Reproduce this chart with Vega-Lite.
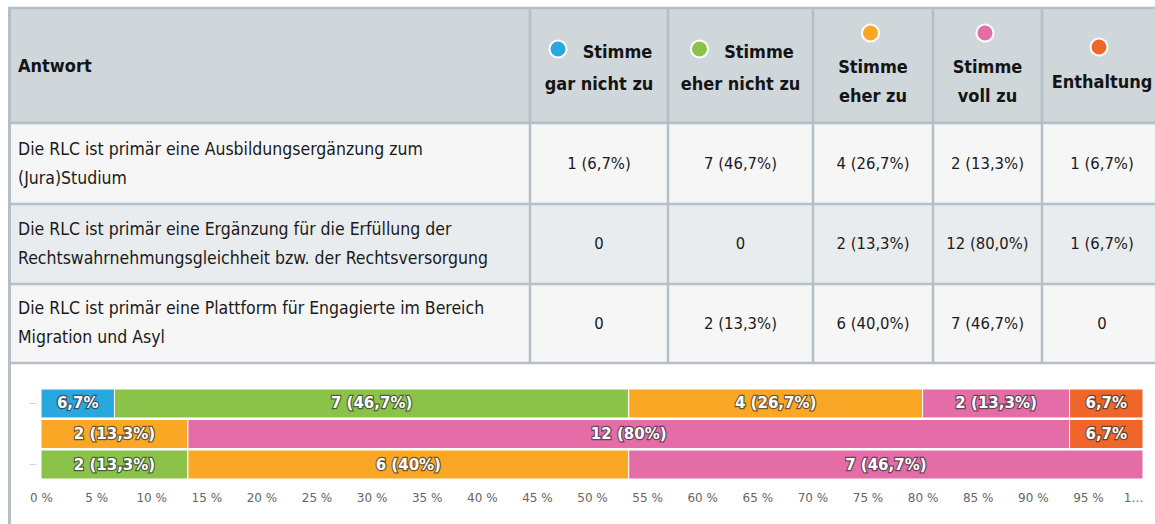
{
  "$schema": "https://vega.github.io/schema/vega-lite/v6.json",
  "width": 1147,
  "height": 517,
  "autosize": {"type": "none"},
  "padding": {"left": 8, "top": 7, "right": 0, "bottom": 0},
  "background": "white",
  "config": {"view": {"stroke": null}, "font": "DejaVu Sans"},
  "datasets": {
    "cats": [
      {"c": 2, "cat": "Stimme gar nicht zu", "l1": "Stimme", "l2": "gar nicht zu"},
      {"c": 3, "cat": "Stimme eher nicht zu", "l1": "Stimme", "l2": "eher nicht zu"},
      {"c": 4, "cat": "Stimme eher zu", "l1": "Stimme", "l2": "eher zu"},
      {"c": 5, "cat": "Stimme voll zu", "l1": "Stimme", "l2": "voll zu"},
      {"c": 6, "cat": "Enthaltung", "l1": "Enthaltung", "l2": ""}
    ],
    "stmts": [
      {"r": 2, "lines": ["Die RLC ist primär eine Ausbildungsergänzung zum", "(Jura)Studium"]},
      {"r": 3, "lines": ["Die RLC ist primär eine Ergänzung für die Erfüllung der", "Rechtswahrnehmungsgleichheit bzw. der Rechtsversorgung"]},
      {"r": 4, "lines": ["Die RLC ist primär eine Plattform für Engagierte im Bereich", "Migration und Asyl"]}
    ],
    "cells": [
      {"r": 2, "c": 2, "v": "1 (6,7%)"},
      {"r": 2, "c": 3, "v": "7 (46,7%)"},
      {"r": 2, "c": 4, "v": "4 (26,7%)"},
      {"r": 2, "c": 5, "v": "2 (13,3%)"},
      {"r": 2, "c": 6, "v": "1 (6,7%)"},
      {"r": 3, "c": 2, "v": "0"},
      {"r": 3, "c": 3, "v": "0"},
      {"r": 3, "c": 4, "v": "2 (13,3%)"},
      {"r": 3, "c": 5, "v": "12 (80,0%)"},
      {"r": 3, "c": 6, "v": "1 (6,7%)"},
      {"r": 4, "c": 2, "v": "0"},
      {"r": 4, "c": 3, "v": "2 (13,3%)"},
      {"r": 4, "c": 4, "v": "6 (40,0%)"},
      {"r": 4, "c": 5, "v": "7 (46,7%)"},
      {"r": 4, "c": 6, "v": "0"}
    ],
    "bars": [
      {"frage": "Die RLC ist primär eine Ausbildungsergänzung zum (Jura)Studium", "cat": "Stimme gar nicht zu", "k": 1, "n": 1, "lab": "6,7%"},
      {"frage": "Die RLC ist primär eine Ausbildungsergänzung zum (Jura)Studium", "cat": "Stimme eher nicht zu", "k": 2, "n": 7, "lab": "7 (46,7%)"},
      {"frage": "Die RLC ist primär eine Ausbildungsergänzung zum (Jura)Studium", "cat": "Stimme eher zu", "k": 3, "n": 4, "lab": "4 (26,7%)"},
      {"frage": "Die RLC ist primär eine Ausbildungsergänzung zum (Jura)Studium", "cat": "Stimme voll zu", "k": 4, "n": 2, "lab": "2 (13,3%)"},
      {"frage": "Die RLC ist primär eine Ausbildungsergänzung zum (Jura)Studium", "cat": "Enthaltung", "k": 5, "n": 1, "lab": "6,7%"},
      {"frage": "Die RLC ist primär eine Ergänzung für die Erfüllung der Rechtswahrnehmungsgleichheit bzw. der Rechtsversorgung", "cat": "Stimme eher zu", "k": 3, "n": 2, "lab": "2 (13,3%)"},
      {"frage": "Die RLC ist primär eine Ergänzung für die Erfüllung der Rechtswahrnehmungsgleichheit bzw. der Rechtsversorgung", "cat": "Stimme voll zu", "k": 4, "n": 12, "lab": "12 (80%)"},
      {"frage": "Die RLC ist primär eine Ergänzung für die Erfüllung der Rechtswahrnehmungsgleichheit bzw. der Rechtsversorgung", "cat": "Enthaltung", "k": 5, "n": 1, "lab": "6,7%"},
      {"frage": "Die RLC ist primär eine Plattform für Engagierte im Bereich Migration und Asyl", "cat": "Stimme eher nicht zu", "k": 2, "n": 2, "lab": "2 (13,3%)"},
      {"frage": "Die RLC ist primär eine Plattform für Engagierte im Bereich Migration und Asyl", "cat": "Stimme eher zu", "k": 3, "n": 6, "lab": "6 (40%)"},
      {"frage": "Die RLC ist primär eine Plattform für Engagierte im Bereich Migration und Asyl", "cat": "Stimme voll zu", "k": 4, "n": 7, "lab": "7 (46,7%)"}
    ]
  },
  "layer": [
    {
      "layer": [
        {
          "data": {"values": [{}]},
          "mark": {"type": "rect", "fill": "#cfd7db", "stroke": "#b5c0c6", "strokeWidth": 2.5},
          "encoding": {
            "x": {"datum": 0.5, "type": "quantitative", "axis": null, "scale": {"domain": [0.5, 1, 1.5, 2, 2.5, 3, 3.5, 4, 4.5, 5, 5.5, 6, 6.5], "range": [1.5, 10, 522, 591, 660, 732.5, 805, 865, 925, 979.5, 1034, 1094, 1155], "zero": false, "nice": false}},
            "x2": {"datum": 6.5},
            "y": {"datum": 0.5, "type": "quantitative", "axis": null, "scale": {"domain": [0.5, 1, 1.5, 2, 2.5, 3, 3.5, 4, 4.5], "range": [1, 58, 116, 157, 197, 237, 277, 316.5, 356], "zero": false, "nice": false}},
            "y2": {"datum": 1.5}
          }
        },
        {
          "data": {"values": [{}]},
          "mark": {"type": "rect", "fill": "#f6f6f6", "stroke": "#b5c0c6", "strokeWidth": 2.5},
          "encoding": {
            "x": {"datum": 0.5, "type": "quantitative", "axis": null},
            "x2": {"datum": 6.5},
            "y": {"datum": 1.5, "type": "quantitative", "axis": null},
            "y2": {"datum": 4.5}
          }
        },
        {
          "data": {"values": [{}]},
          "mark": {"type": "rect", "fill": "#e9ecee", "stroke": "#b5c0c6", "strokeWidth": 2.5},
          "encoding": {
            "x": {"datum": 0.5, "type": "quantitative", "axis": null},
            "x2": {"datum": 6.5},
            "y": {"datum": 2.5, "type": "quantitative", "axis": null},
            "y2": {"datum": 3.5}
          }
        },
        {
          "data": {"values": [{}]},
          "mark": {"type": "rule", "color": "#b5c0c6", "strokeWidth": 2.5},
          "encoding": {
            "x": {"datum": 1.5, "type": "quantitative", "axis": null},
            "y": {"datum": 0.5, "type": "quantitative", "axis": null},
            "y2": {"datum": 4.5}
          }
        },
        {
          "data": {"values": [{}]},
          "mark": {"type": "rule", "color": "#b5c0c6", "strokeWidth": 2.5},
          "encoding": {
            "x": {"datum": 2.5, "type": "quantitative", "axis": null},
            "y": {"datum": 0.5, "type": "quantitative", "axis": null},
            "y2": {"datum": 4.5}
          }
        },
        {
          "data": {"values": [{}]},
          "mark": {"type": "rule", "color": "#b5c0c6", "strokeWidth": 2.5},
          "encoding": {
            "x": {"datum": 3.5, "type": "quantitative", "axis": null},
            "y": {"datum": 0.5, "type": "quantitative", "axis": null},
            "y2": {"datum": 4.5}
          }
        },
        {
          "data": {"values": [{}]},
          "mark": {"type": "rule", "color": "#b5c0c6", "strokeWidth": 2.5},
          "encoding": {
            "x": {"datum": 4.5, "type": "quantitative", "axis": null},
            "y": {"datum": 0.5, "type": "quantitative", "axis": null},
            "y2": {"datum": 4.5}
          }
        },
        {
          "data": {"values": [{}]},
          "mark": {"type": "rule", "color": "#b5c0c6", "strokeWidth": 2.5},
          "encoding": {
            "x": {"datum": 5.5, "type": "quantitative", "axis": null},
            "y": {"datum": 0.5, "type": "quantitative", "axis": null},
            "y2": {"datum": 4.5}
          }
        },
        {
          "data": {"values": [{}]},
          "mark": {"type": "rule", "color": "#b5c0c6", "strokeWidth": 3},
          "encoding": {
            "x": {"datum": 0.5, "type": "quantitative", "axis": null}
          }
        },
        {
          "data": {"values": [{"c": 1, "t": "Antwort"}]},
          "mark": {"type": "text", "align": "left", "baseline": "middle", "font": "DejaVu Sans Condensed, Liberation Sans Narrow, DejaVu Sans", "fontSize": 18, "fontWeight": "bold", "color": "#141414", "dy": 2},
          "encoding": {
            "x": {"field": "c", "type": "quantitative", "axis": null},
            "y": {"datum": 1, "type": "quantitative", "axis": null},
            "text": {"field": "t"}
          }
        },
        {
          "data": {"name": "cats"},
          "transform": [{"filter": "datum.c <= 3"}],
          "mark": {"type": "point", "shape": "circle", "filled": true, "size": 290, "stroke": "white", "strokeWidth": 2, "opacity": 1, "xOffset": -41, "yOffset": -16},
          "encoding": {
            "x": {"field": "c", "type": "quantitative", "axis": null},
            "y": {"datum": 1, "type": "quantitative", "axis": null},
            "color": {"field": "cat", "type": "nominal", "legend": null, "scale": {"domain": ["Stimme gar nicht zu", "Stimme eher nicht zu", "Stimme eher zu", "Stimme voll zu", "Enthaltung"], "range": ["#29a8e0", "#8bc34a", "#fba726", "#e46ca7", "#f0662a"]}}
          }
        },
        {
          "data": {"name": "cats"},
          "transform": [{"filter": "datum.c == 4 || datum.c == 5"}],
          "mark": {"type": "point", "shape": "circle", "filled": true, "size": 290, "stroke": "white", "strokeWidth": 2, "opacity": 1, "xOffset": -2.5, "yOffset": -32},
          "encoding": {
            "x": {"field": "c", "type": "quantitative", "axis": null},
            "y": {"datum": 1, "type": "quantitative", "axis": null},
            "color": {"field": "cat", "type": "nominal", "legend": null}
          }
        },
        {
          "data": {"name": "cats"},
          "transform": [{"filter": "datum.c == 6"}],
          "mark": {"type": "point", "shape": "circle", "filled": true, "size": 290, "stroke": "white", "strokeWidth": 2, "opacity": 1, "xOffset": -3, "yOffset": -18},
          "encoding": {
            "x": {"field": "c", "type": "quantitative", "axis": null},
            "y": {"datum": 1, "type": "quantitative", "axis": null},
            "color": {"field": "cat", "type": "nominal", "legend": null}
          }
        },
        {
          "data": {"name": "cats"},
          "transform": [{"filter": "datum.c <= 3"}],
          "mark": {"type": "text", "align": "center", "baseline": "middle", "font": "DejaVu Sans Condensed, Liberation Sans Narrow, DejaVu Sans", "fontSize": 18, "fontWeight": "bold", "color": "#141414", "dx": 18.5, "dy": -12},
          "encoding": {
            "x": {"field": "c", "type": "quantitative", "axis": null},
            "y": {"datum": 1, "type": "quantitative", "axis": null},
            "text": {"field": "l1"}
          }
        },
        {
          "data": {"name": "cats"},
          "transform": [{"filter": "datum.c <= 3"}],
          "mark": {"type": "text", "align": "center", "baseline": "middle", "font": "DejaVu Sans Condensed, Liberation Sans Narrow, DejaVu Sans", "fontSize": 18, "fontWeight": "bold", "color": "#141414", "dy": 20},
          "encoding": {
            "x": {"field": "c", "type": "quantitative", "axis": null},
            "y": {"datum": 1, "type": "quantitative", "axis": null},
            "text": {"field": "l2"}
          }
        },
        {
          "data": {"name": "cats"},
          "transform": [{"filter": "datum.c == 4 || datum.c == 5"}],
          "mark": {"type": "text", "align": "center", "baseline": "middle", "font": "DejaVu Sans Condensed, Liberation Sans Narrow, DejaVu Sans", "fontSize": 18, "fontWeight": "bold", "color": "#141414", "dy": 3},
          "encoding": {
            "x": {"field": "c", "type": "quantitative", "axis": null},
            "y": {"datum": 1, "type": "quantitative", "axis": null},
            "text": {"field": "l1"}
          }
        },
        {
          "data": {"name": "cats"},
          "transform": [{"filter": "datum.c == 4 || datum.c == 5"}],
          "mark": {"type": "text", "align": "center", "baseline": "middle", "font": "DejaVu Sans Condensed, Liberation Sans Narrow, DejaVu Sans", "fontSize": 18, "fontWeight": "bold", "color": "#141414", "dy": 32},
          "encoding": {
            "x": {"field": "c", "type": "quantitative", "axis": null},
            "y": {"datum": 1, "type": "quantitative", "axis": null},
            "text": {"field": "l2"}
          }
        },
        {
          "data": {"name": "cats"},
          "transform": [{"filter": "datum.c == 6"}],
          "mark": {"type": "text", "align": "center", "baseline": "middle", "font": "DejaVu Sans Condensed, Liberation Sans Narrow, DejaVu Sans", "fontSize": 18, "fontWeight": "bold", "color": "#141414", "dy": 18},
          "encoding": {
            "x": {"field": "c", "type": "quantitative", "axis": null},
            "y": {"datum": 1, "type": "quantitative", "axis": null},
            "text": {"field": "l1"}
          }
        },
        {
          "data": {"name": "stmts"},
          "mark": {"type": "text", "align": "left", "baseline": "middle", "font": "DejaVu Sans Condensed, Liberation Sans Narrow, DejaVu Sans", "fontSize": 17.5, "lineHeight": 29, "color": "#1a1a1a", "dy": -14.5},
          "encoding": {
            "x": {"datum": 1, "type": "quantitative", "axis": null},
            "y": {"field": "r", "type": "quantitative", "axis": null},
            "text": {"field": "lines"}
          }
        },
        {
          "data": {"name": "cells"},
          "mark": {"type": "text", "align": "center", "baseline": "middle", "font": "DejaVu Sans Condensed, Liberation Sans Narrow, DejaVu Sans", "fontSize": 16.5, "color": "#1a1a1a"},
          "encoding": {
            "x": {"field": "c", "type": "quantitative", "axis": null},
            "y": {"field": "r", "type": "quantitative", "axis": null},
            "text": {"field": "v"}
          }
        }
      ]
    },
    {
      "data": {"name": "bars"},
      "encoding": {
        "y": {
          "field": "frage", "type": "nominal", "sort": null,
          "scale": {"range": [382, 472], "paddingInner": 0.05, "paddingOuter": 0},
          "axis": {
            "values": ["Die RLC ist primär eine Ausbildungsergänzung zum (Jura)Studium", "Die RLC ist primär eine Plattform für Engagierte im Bereich Migration und Asyl"],
            "labels": false, "domain": false, "grid": false, "ticks": true, "tickSize": 7, "tickColor": "#ccd6eb", "tickWidth": 1, "offset": -28, "title": null
          }
        }
      },
      "layer": [
        {
          "mark": {"type": "bar", "stroke": "white", "strokeWidth": 1},
          "encoding": {
            "x": {
              "field": "n", "type": "quantitative", "stack": "normalize",
              "scale": {"range": [33, 1135]},
              "axis": {
                "values": [0, 0.05, 0.1, 0.15, 0.2, 0.25, 0.3, 0.35, 0.4, 0.45, 0.5, 0.55, 0.6, 0.65, 0.7, 0.75, 0.8, 0.85, 0.9, 0.95, 1],
                "labelExpr": "datum.value >= 0.999 ? '1…' : round(datum.value * 100) + ' %'",
                "labelAlign": {"condition": {"test": "datum.value >= 0.999", "value": "right"}, "value": "center"},
                "grid": false, "ticks": false, "tickSize": 0, "domain": false, "labelOverlap": false,
                "labelFont": "DejaVu Sans", "labelFontSize": 12, "labelColor": "#666666", "labelPadding": 4,
                "offset": -36, "title": null
              }
            },
            "order": {"field": "k"},
            "color": {"field": "cat", "type": "nominal", "legend": null, "scale": {"domain": ["Stimme gar nicht zu", "Stimme eher nicht zu", "Stimme eher zu", "Stimme voll zu", "Enthaltung"], "range": ["#29a8e0", "#8bc34a", "#fba726", "#e46ca7", "#f0662a"]}}
          }
        },
        {
          "mark": {"type": "text", "align": "center", "baseline": "middle", "font": "DejaVu Sans", "fontSize": 15, "fontWeight": "bold", "fill": "#333333", "stroke": "#333333", "strokeWidth": 2.4, "opacity": 0.7},
          "encoding": {
            "x": {"field": "n", "type": "quantitative", "stack": "normalize", "bandPosition": 0.5},
            "order": {"field": "k"},
            "text": {"field": "lab"}
          }
        },
        {
          "mark": {"type": "text", "align": "center", "baseline": "middle", "font": "DejaVu Sans", "fontSize": 15, "fontWeight": "bold", "fill": "white"},
          "encoding": {
            "x": {"field": "n", "type": "quantitative", "stack": "normalize", "bandPosition": 0.5},
            "order": {"field": "k"},
            "text": {"field": "lab"}
          }
        }
      ]
    }
  ],
  "resolve": {"scale": {"x": "independent", "y": "independent"}}
}
